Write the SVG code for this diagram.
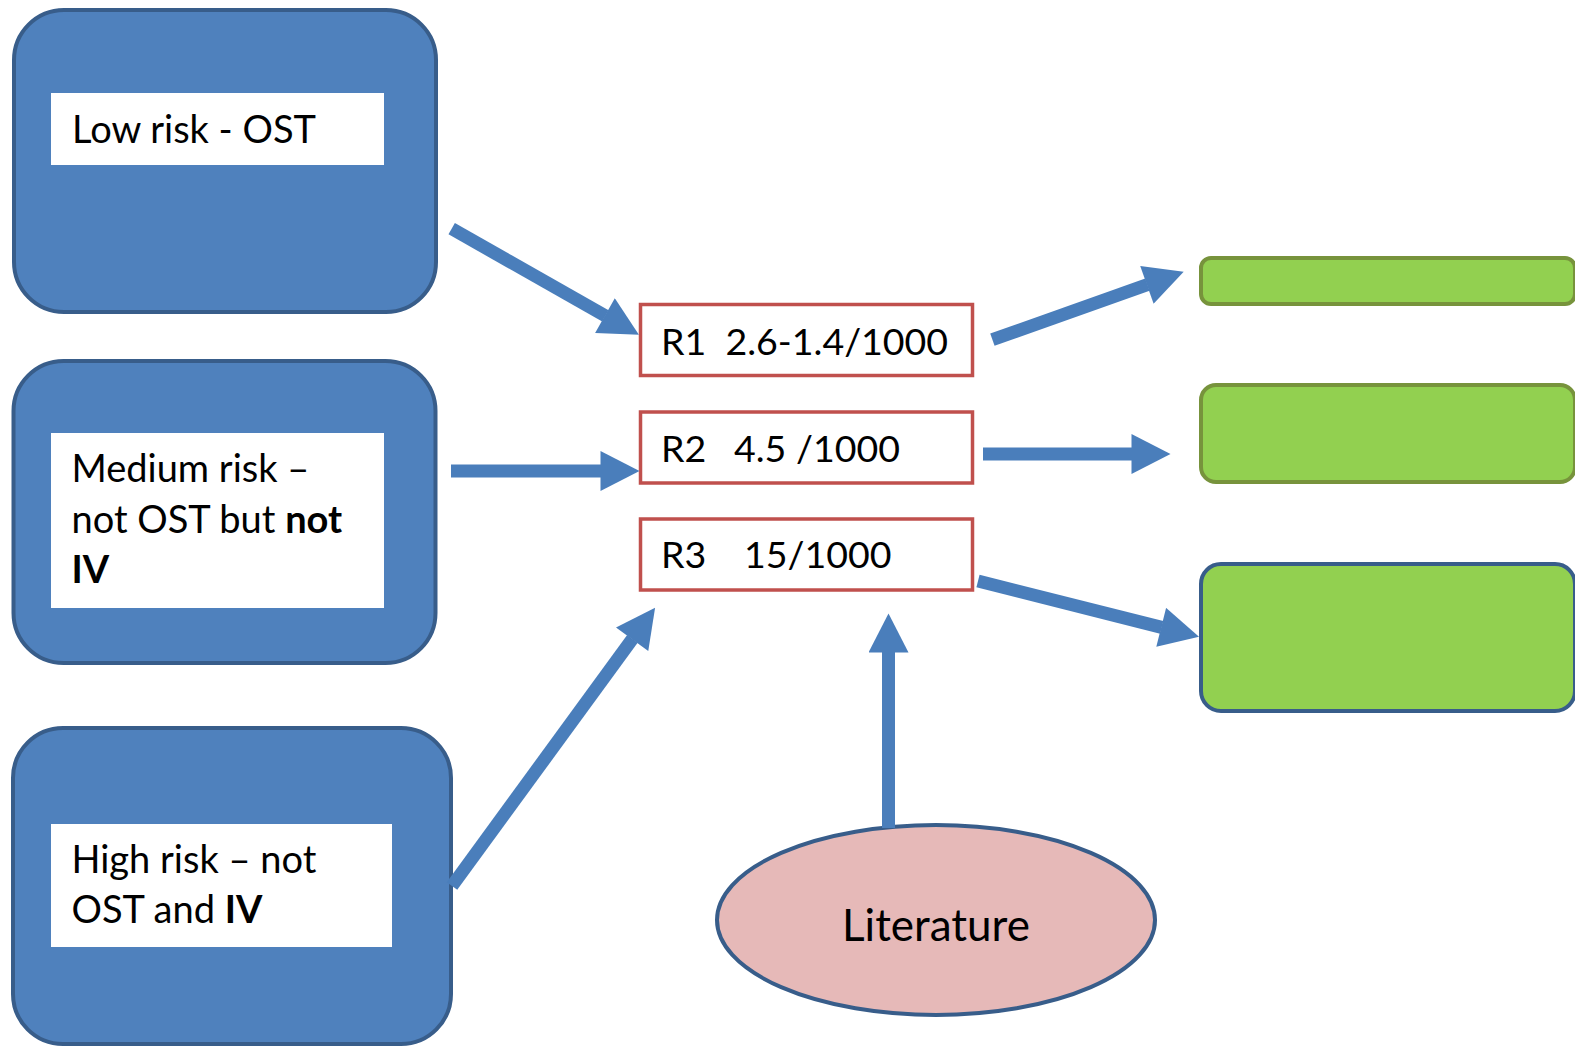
<svg xmlns="http://www.w3.org/2000/svg" width="1575" height="1046" viewBox="0 0 1575 1046">
<defs>
<style>
.risk{fill:#4f81bd;stroke:#385d8a;stroke-width:4}
.lbl{fill:#ffffff}
.rate{fill:#ffffff;stroke:#c0504d;stroke-width:3.5}
.out{fill:#92d050;stroke:#77933c;stroke-width:4}
.outb{fill:#92d050;stroke:#385d8a;stroke-width:4}
.lit{fill:#e6b9b8;stroke:#385d8a;stroke-width:4}
.t{font-family:Lato,"Liberation Sans",sans-serif;font-size:38px;fill:#000000}
.r{font-size:37.5px}
.conn line{stroke:#4a7ebb;stroke-width:13;fill:none}
</style>
<marker id="ah" markerUnits="userSpaceOnUse" markerWidth="40" markerHeight="40" viewBox="0 0 39 40" refX="0.5" refY="20" orient="auto">
<path d="M0,0 L39,20 L0,40 Z" fill="#4a7ebb"/>
</marker>
</defs>
<rect width="1575" height="1046" fill="#ffffff"/>
<g id="low-risk">
<rect class="risk" x="14" y="10" width="422" height="302" rx="50"/>
<rect class="lbl" x="51" y="93" width="333" height="72"/>
<text class="t" x="72" y="143">Low risk - OST</text>
</g>
<g id="medium-risk">
<rect class="risk" x="13.5" y="361" width="422" height="302" rx="50"/>
<rect class="lbl" x="51" y="433" width="333" height="175"/>
<text class="t" x="71.5" y="482">Medium risk –</text>
<text class="t" x="71.5" y="533">not OST but <tspan font-weight="bold">not</tspan></text>
<text class="t" x="71.5" y="583" font-weight="bold">IV</text>
</g>
<g id="high-risk">
<rect class="risk" x="13" y="728" width="438" height="316" rx="50"/>
<rect class="lbl" x="51" y="824" width="341" height="123"/>
<text class="t" x="71.5" y="873">High risk – not</text>
<text class="t" x="71.5" y="923">OST and <tspan font-weight="bold">IV</tspan></text>
</g>
<g id="r1">
<rect class="rate" x="640.5" y="304.5" width="332" height="71"/>
<text class="t r" x="661" y="355">R1 <tspan x="725.5">2.6-1.4/1000</tspan></text>
</g>
<g id="r2">
<rect class="rate" x="640.5" y="412" width="332" height="71"/>
<text class="t r" x="661" y="462">R2 <tspan x="734">4.5 /1000</tspan></text>
</g>
<g id="r3">
<rect class="rate" x="640.5" y="519" width="332" height="71"/>
<text class="t r" x="661" y="568">R3 <tspan x="744">15/1000</tspan></text>
</g>
<g id="outcome1">
<rect class="out" x="1201" y="258" width="374" height="46" rx="10"/>
</g>
<g id="outcome2">
<rect class="out" x="1201" y="385" width="374" height="97" rx="15"/>
</g>
<g id="outcome3">
<rect class="outb" x="1201" y="564" width="374" height="147" rx="20"/>
</g>
<g id="literature">
<ellipse class="lit" cx="936" cy="920" rx="219" ry="95"/>
<text class="t" x="936" y="941" text-anchor="middle" style="font-size:44px">Literature</text>
</g>
<g id="connectors" class="conn">
<line x1="451.7" y1="228.7" x2="605.4" y2="315.8" marker-end="url(#ah)"/>
<line x1="451" y1="471" x2="601" y2="471" marker-end="url(#ah)"/>
<line x1="452" y1="886" x2="632.4" y2="638.8" marker-end="url(#ah)"/>
<line x1="888.5" y1="828" x2="888.5" y2="652" marker-end="url(#ah)"/>
<line x1="992.4" y1="339.7" x2="1147.4" y2="284.7" marker-end="url(#ah)"/>
<line x1="983" y1="454" x2="1132" y2="454" marker-end="url(#ah)"/>
<line x1="978" y1="581" x2="1161.7" y2="627.4" marker-end="url(#ah)"/>
</g>
</svg>
